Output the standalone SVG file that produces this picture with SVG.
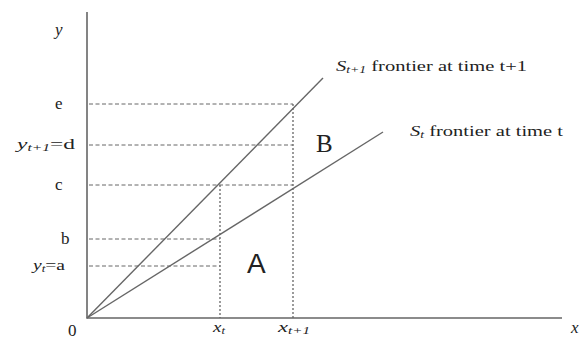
<svg xmlns="http://www.w3.org/2000/svg" width="581" height="341" viewBox="0 0 581 341">
<style>
text{font-family:"Liberation Serif","DejaVu Serif","Times New Roman",serif;fill:#222;font-size:15px}
.ax{stroke:#666;stroke-width:1.6;fill:none}
.fr{stroke:#666;stroke-width:1.4;fill:none}
.dh{stroke:#666;stroke-width:1;stroke-dasharray:4,2.5;fill:none}
.dv{stroke:#666;stroke-width:1.3;stroke-dasharray:2,2;fill:none}
.it{font-style:italic}
.sub{font-style:italic;font-size:10px}
.one{font-size:17px}
.bigB{font-size:25px}
.bigA{font-size:28px;font-family:"Liberation Sans",Arial,sans-serif}
</style>
<rect width="581" height="341" fill="#fff"/>
<g id="connectors">
<path class="ax" d="M87,12 V318 H562"/>
<path class="fr" d="M87,318 L323,78"/>
<path class="fr" d="M87,318 L383,132"/>
<path class="dh" d="M89,104 H293"/>
<path class="dh" d="M89,145 H293"/>
<path class="dh" d="M89,185 H293"/>
<path class="dh" d="M89,239 H220"/>
<path class="dh" d="M89,266 H220"/>
<path class="dv" d="M220,185 V318"/>
<path class="dv" d="M293,104 V318"/>
</g>
<g id="labels">
<text x="55" y="35" class="it one">y</text>
<text x="55" y="109" class="one">e</text>
<text x="17" y="149" textLength="58" lengthAdjust="spacingAndGlyphs"><tspan class="it">y</tspan><tspan class="sub" dy="2">t+1</tspan><tspan dy="-2">=d</tspan></text>
<text x="55" y="190" class="one">c</text>
<text x="61" y="244" class="one">b</text>
<text x="33" y="270" textLength="32" lengthAdjust="spacingAndGlyphs"><tspan class="it">y</tspan><tspan class="sub" dy="2">t</tspan><tspan dy="-2">=a</tspan></text>
<text x="68" y="336" class="one">0</text>
<text x="571" y="333" class="it one">x</text>
<text x="213" y="332" textLength="12" lengthAdjust="spacingAndGlyphs"><tspan class="it">x</tspan><tspan class="sub" dy="2">t</tspan></text>
<text x="278" y="332" textLength="32" lengthAdjust="spacingAndGlyphs"><tspan class="it">x</tspan><tspan class="sub" dy="2">t+1</tspan></text>
<text x="336" y="71" textLength="191" lengthAdjust="spacingAndGlyphs"><tspan class="it">S</tspan><tspan class="sub" dy="2">t+1</tspan><tspan dy="-2"> frontier at time t+1</tspan></text>
<text x="410" y="136" textLength="153" lengthAdjust="spacingAndGlyphs"><tspan class="it">S</tspan><tspan class="sub" dy="2">t</tspan><tspan dy="-2"> frontier at time t</tspan></text>
<text x="316" y="152" class="bigB">B</text>
<text x="247" y="273" class="bigA">A</text>
</g>
</svg>
